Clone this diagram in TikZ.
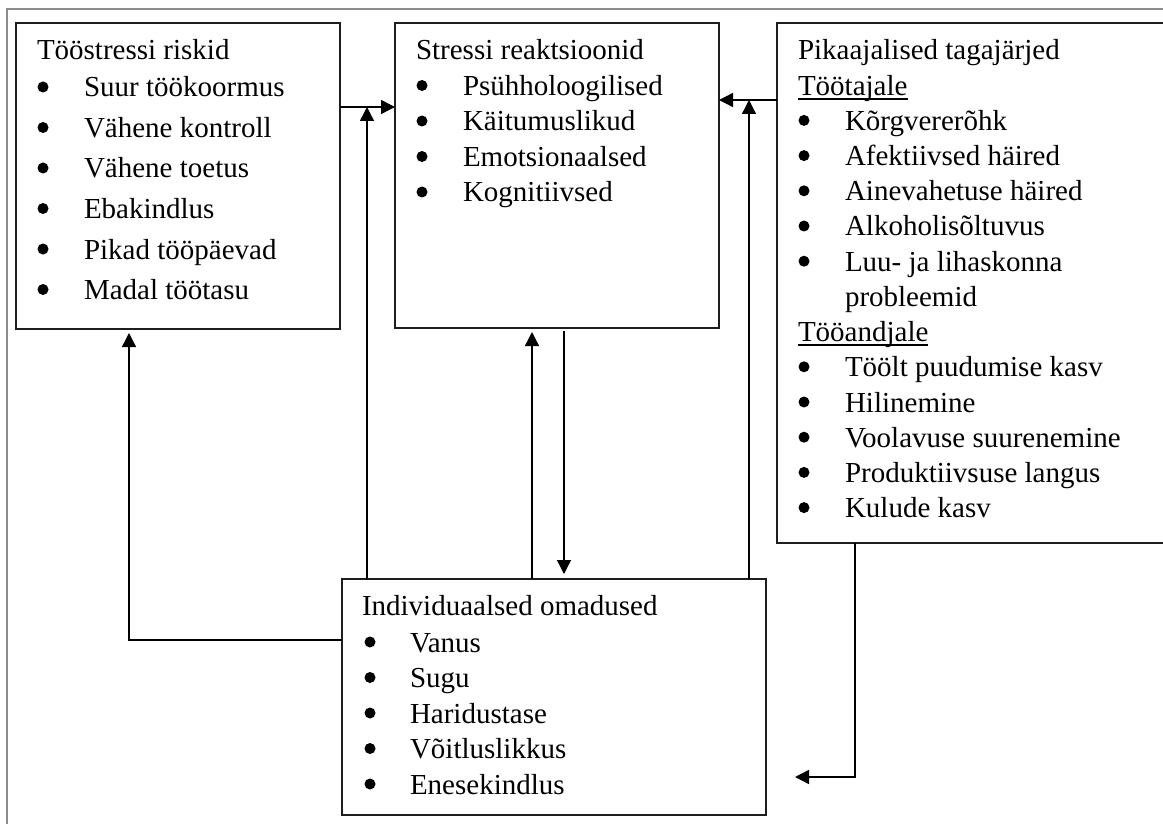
\documentclass[tikz,border=0pt]{standalone}
\usepackage{fontspec}
\setmainfont{Liberation Serif}
\usetikzlibrary{arrows.meta}
\definecolor{framegray}{RGB}{140,140,140}
\definecolor{boxline}{RGB}{30,30,30}

\begin{document}
\begin{tikzpicture}[x=1pt,y=-1pt,
  box/.style={draw=boxline, line width=1.6pt, rectangle, inner sep=0pt,
    outer sep=0pt, anchor=north west},
  txt/.style={inner sep=0pt, outer sep=0pt, anchor=base west,
    font=\fontsize{29}{34}\selectfont},
  bul/.style={circle, fill=black, inner sep=0pt, outer sep=0pt,
    minimum size=11pt},
  uline/.style={line width=1.8pt},
  conn/.style={line width=1.4pt, -{Triangle[length=14pt,width=14pt]}},
]
\useasboundingbox (0,0) rectangle (1163,824);
\clip (0,0) rectangle (1163,824);
\fill[white] (0,0) rectangle (1163,824);

% page frame (top and left edges)
\draw[framegray, line width=2.5pt] (7,840) -- (7,9) -- (1180,9);

% boxes; the right-hand box runs past the right margin
\node[box, minimum width=324pt, minimum height=306pt] (b1) at (16,23) {};
\node[box, minimum width=324pt, minimum height=305pt] (b2) at (395,23) {};
\node[box, minimum width=600pt, minimum height=520pt] (b3) at (777,23) {};
\node[box, minimum width=424pt, minimum height=236pt] (b4) at (342,579) {};

% Tööstressi riskid
\node[txt] (b1h) at (37,60) {Tööstressi riskid};
\foreach \t [count=\i from 0] in {Suur töökoormus, Vähene kontroll,
    Vähene toetus, Ebakindlus, Pikad tööpäevad, Madal töötasu} {
  \node[bul] (b1d\i) at (43,87+40.5*\i) {};
  \node[txt] (b1t\i) at (84,97+40.5*\i) {\t};
}

% Stressi reaktsioonid
\node[txt] (b2h) at (416,60) {Stressi reaktsioonid};
\foreach \t [count=\i from 0] in {Psühholoogilised, Käitumuslikud,
    Emotsionaalsed, Kognitiivsed} {
  \node[bul] (b2d\i) at (422,85.5+35.5*\i) {};
  \node[txt] (b2t\i) at (463,95.5+35.5*\i) {\t};
}

% Pikaajalised tagajärjed
\node[txt] (b3h) at (798,60) {Pikaajalised tagajärjed};
\node[txt] (b3u1) at (798,95.2) {Töötajale};
\draw[uline] ([yshift=-3.5pt]b3u1.base west) -- ([yshift=-3.5pt]b3u1.base east);
\foreach \t [count=\i from 0] in {Kõrgvererõhk, Afektiivsed häired,
    Ainevahetuse häired, Alkoholisõltuvus, Luu- ja lihaskonna} {
  \node[bul] (b3d\i) at (804,120.4+35.2*\i) {};
  \node[txt] (b3t\i) at (845,130.4+35.2*\i) {\t};
}
\node[txt] (b3t5) at (845,306.4) {probleemid};
\node[txt] (b3u2) at (798,341.6) {Tööandjale};
\draw[uline] ([yshift=-3.5pt]b3u2.base west) -- ([yshift=-3.5pt]b3u2.base east);
\foreach \t [count=\i from 0] in {Töölt puudumise kasv, Hilinemine,
    Voolavuse suurenemine, Produktiivsuse langus, Kulude kasv} {
  \node[bul] (b3e\i) at (804,366.8+35.2*\i) {};
  \node[txt] (b3s\i) at (845,376.8+35.2*\i) {\t};
}

% Individuaalsed omadused
\node[txt] (b4h) at (362,615) {Individuaalsed omadused};
\foreach \t [count=\i from 0] in {Vanus, Sugu, Haridustase,
    Võitluslikkus, Enesekindlus} {
  \node[bul] (b4d\i) at (370,642+35.5*\i) {};
  \node[txt] (b4t\i) at (410,652+35.5*\i) {\t};
}

% connector junctions and guides
\coordinate (j1) at (367,107);
\coordinate (j2) at (749,100);
\coordinate (c1) at (129,640);
\coordinate (upx) at (532,0);
\coordinate (dnx) at (564,0);
\coordinate (c2) at (855,777);
\coordinate (e1) at (795,777);

% connectors
\draw[conn] (b1.east |- j1) -- (b2.west |- j1);
\draw[conn] (b4.north -| j1) -- (j1);
\draw[conn] (b3.west |- j2) -- (b2.east |- j2);
\draw[conn] (b4.north -| j2) -- (j2);
\draw[conn, shorten >=4pt] (b4.west |- c1) -| (b1.south -| c1);
\draw[conn, shorten >=4pt] (b4.north -| upx) -- (b2.south -| upx);
\draw[conn, shorten <=3pt, shorten >=5pt] (b2.south -| dnx) -- (b4.north -| dnx);
\draw[conn] (b3.south -| c2) |- (e1);
\end{tikzpicture}
\end{document}
